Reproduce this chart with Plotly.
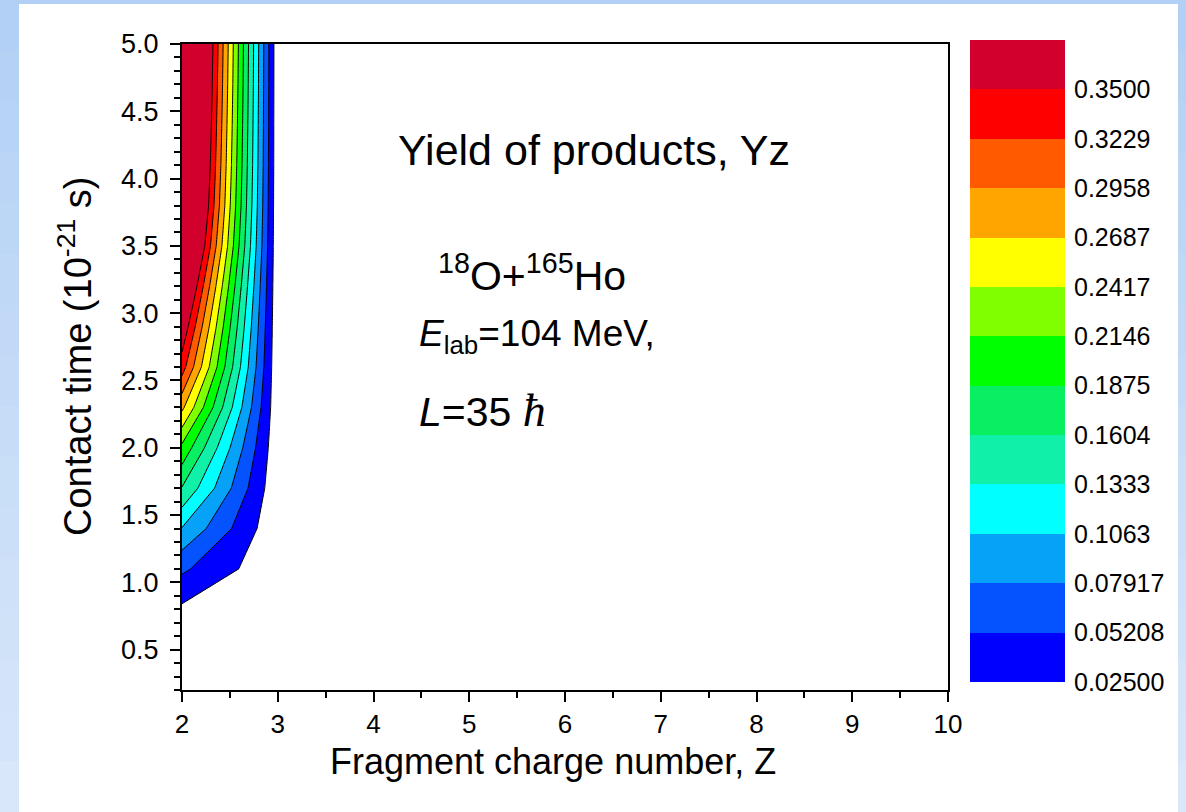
import plotly.graph_objects as go

# ---------------- data ----------------
contact_time = [0.2, 0.5, 0.8, 1.1, 1.4, 1.7, 2.0, 2.3, 2.6, 2.9,
                3.2, 3.5, 3.8, 4.1, 4.4, 4.7, 5.0]
charge_number = [2, 3]
yield_z2 = [0.002, 0.008, 0.020, 0.057, 0.105, 0.159, 0.208, 0.275, 0.336, 0.374,
            0.414, 0.458, 0.483, 0.495, 0.503, 0.510, 0.515]
yield_z3 = [0.000, 0.001, 0.002, 0.003, 0.003, 0.004, 0.005, 0.005, 0.004, 0.004,
            0.004, 0.004, 0.004, 0.0045, 0.0045, 0.0045, 0.0046]

level_labels = ["0.02500", "0.05208", "0.07917", "0.1063", "0.1333", "0.1604",
                "0.1875", "0.2146", "0.2417", "0.2687", "0.2958", "0.3229", "0.3500"]
band_colors = ["#0000ff", "#0552ff", "#05a2f8", "#00ffff", "#10f0a8", "#08f062",
               "#00ff00", "#80ff00", "#ffff00", "#ffa500", "#ff5a00", "#ff0000", "#d2002c"]

# ---------------- page geometry ----------------
W, H = 1186, 812
ML, MR, MT, MB = 182, 121, 40, 122
PW, PH = W - ML - MR, H - MT - MB


def fx(px):
    return (px - ML) / PW


def fy(py):
    return (H - MB - py) / PH


FONT = "Liberation Sans, Arial, sans-serif"

levels = [float(s) for s in level_labels]
lv_start, lv_end = levels[0], levels[-1]
lv_step = (lv_end - lv_start) / (len(levels) - 1)

# stepped colour scale: white below the first level, then one colour per band
fill_colors = ["#ffffff"] + band_colors
n = len(fill_colors) - 1
scale = []
for j, c in enumerate(fill_colors):
    lo = max(0.0, (j - 0.5) / n)
    hi = min(1.0, (j + 0.5) / n)
    scale.append([lo, c])
    scale.append([hi, c])

z = [[a, b] for a, b in zip(yield_z2, yield_z3)]

fig = go.Figure()

fig.add_trace(go.Contour(
    x=charge_number, y=contact_time, z=z,
    contours=dict(start=lv_start, end=lv_end, size=lv_step, coloring="fill"),
    colorscale=scale, showscale=False,
    line=dict(color="black", width=1, smoothing=0),
    hoverinfo="skip",
))

# colour key drawn as stacked blocks, one per band
fig.add_trace(go.Bar(
    x=[0] * len(band_colors), y=[1] * len(band_colors),
    base=list(range(len(band_colors))), width=1,
    marker=dict(color=band_colors, line=dict(width=0)),
    xaxis="x2", yaxis="y2", showlegend=False, hoverinfo="skip",
))

# ---------------- background panel ----------------
shapes = []
top_c = (0xb2, 0xd0, 0xf5)
bot_c = (0xd8, 0xe7, 0xf9)
nstrip = 16
for i in range(nstrip):
    t = i / (nstrip - 1)
    col = "rgb(%d,%d,%d)" % tuple(round(a + (b - a) * t) for a, b in zip(top_c, bot_c))
    y0 = H * i / nstrip
    y1 = H * (i + 1) / nstrip + 1
    shapes.append(dict(type="rect", xref="paper", yref="paper", layer="below",
                       x0=fx(0), x1=fx(W), y0=fy(y1), y1=fy(y0),
                       fillcolor=col, line=dict(width=0)))
shapes.append(dict(type="rect", xref="paper", yref="paper", layer="below",
                   x0=fx(19), x1=fx(1178), y0=fy(H + 2), y1=fy(4),
                   fillcolor="white", line=dict(width=0)))

# ---------------- text ----------------
def note(text, x, y, size, xanchor="left", angle=0):
    return dict(text=text, x=fx(x), y=fy(y), xref="paper", yref="paper",
                xanchor=xanchor, yanchor="middle", showarrow=False, textangle=angle,
                font=dict(family=FONT, size=size, color="black"))


annotations = [
    note("Yield of products, Yz", 396, 150, 43),
    note("<sup>18</sup>O+<sup>165</sup>Ho", 436, 273, 41),
    note("<i>E</i><sub>lab</sub>=104 MeV,", 417, 336, 37),
    note("<i>L</i>=35 <span style=\"font-family:'Liberation Serif', serif; font-size:46px\"><i>ħ</i></span>",
         417, 410, 41),
    note("Fragment charge number, Z", 553, 761, 36, xanchor="center"),
    note("Contact time (10<sup>-21</sup> s)", 75, 357, 38, xanchor="center", angle=-90),
]

axis_common = dict(
    showgrid=False, zeroline=False, showline=True, linecolor="black", linewidth=2,
    mirror=True, ticks="outside", ticklen=10, tickwidth=2, tickcolor="black",
)

fig.update_layout(
    width=W, height=H,
    margin=dict(l=ML, r=MR, t=MT, b=MB, pad=0),
    paper_bgcolor="#c4dbf6", plot_bgcolor="rgba(0,0,0,0)",
    font=dict(family=FONT, color="black"),
    shapes=shapes, annotations=annotations,
    showlegend=False,
    xaxis=dict(
        domain=[0, fx(948)], range=[2, 10], tick0=2, dtick=1,
        minor=dict(dtick=0.5, ticks="outside", ticklen=6, tickwidth=2, tickcolor="black"),
        tickfont=dict(size=26), ticklabelstandoff=0,
        anchor="y", **axis_common,
    ),
    yaxis=dict(
        domain=[0, fy(44)], range=[0.2, 5.0], tick0=0.5, dtick=0.5, tickformat=".1f",
        minor=dict(dtick=0.1, ticks="outside", ticklen=6, tickwidth=2, tickcolor="black"),
        tickfont=dict(size=27), ticklabelstandoff=6,
        anchor="x", **axis_common,
    ),
    xaxis2=dict(domain=[fx(970), 1.0], range=[-0.5, 0.5], visible=False,
                anchor="y2", fixedrange=True),
    yaxis2=dict(domain=[fy(682), 1.0], range=[0, len(band_colors)], anchor="x2",
                side="right", tickvals=list(range(len(level_labels))), ticktext=level_labels,
                showgrid=False, zeroline=False, showline=False, ticks="",
                tickfont=dict(size=25), ticklabelstandoff=8, fixedrange=True),
    bargap=0,
)

fig.write_html("out.html")
